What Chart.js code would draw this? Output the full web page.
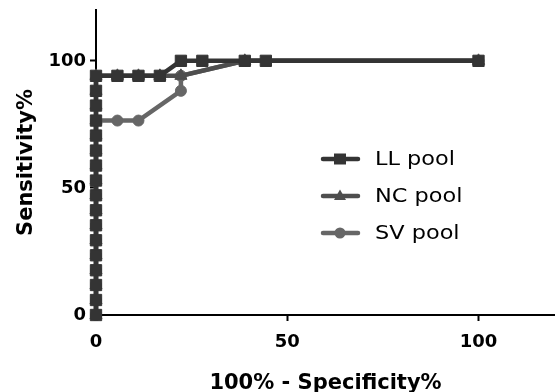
<!DOCTYPE html>
<html>
<head>
<meta charset="utf-8">
<script src="https://cdn.jsdelivr.net/npm/chart.js@4/dist/chart.umd.min.js"></script>
<style>
  html, body { margin: 0; padding: 0; background: #fff; }
</style>
</head>
<body>
<canvas id="rocChart" width="555" height="392"></canvas>
<script>
// ROC curves, values (17 positives, 18 negatives)
const seriesNames = ['LL pool', 'NC pool', 'SV pool'];

const llX = [0, 0, 0, 0, 0, 0, 0, 0, 0, 0, 0, 0, 0, 0, 0, 0, 0, 5.6, 11.1, 16.7, 22.2, 27.8, 38.9, 44.4, 100];
const llY = [0, 5.9, 11.8, 17.6, 23.5, 29.4, 35.3, 41.2, 47.1, 52.9, 58.8, 64.7, 70.6, 76.5, 82.4, 88.2, 94.1, 94.1, 94.1, 94.1, 100, 100, 100, 100, 100];

const ncX = [0, 0, 0, 0, 0, 0, 0, 0, 0, 0, 0, 0, 0, 0, 0, 0, 0, 5.6, 11.1, 16.7, 22.2, 38.9, 100];
const ncY = [0, 5.9, 11.8, 17.6, 23.5, 29.4, 35.3, 41.2, 47.1, 52.9, 58.8, 64.7, 70.6, 76.5, 82.4, 88.2, 94.1, 94.1, 94.1, 94.1, 94.1, 100, 100];

const svX = [0, 0, 0, 0, 0, 0, 0, 0, 0, 0, 0, 0, 0, 0, 5.6, 11.1, 22.2, 22.2, 38.9, 100];
const svY = [0, 5.9, 11.8, 17.6, 23.5, 29.4, 35.3, 41.2, 47.1, 52.9, 58.8, 64.7, 70.6, 76.5, 76.5, 76.5, 88.2, 94.1, 100, 100];

const xTicks = [0, 50, 100];
const yTicks = [0, 50, 100];

const colors = ['rgb(52,52,52)', 'rgb(78,78,78)', 'rgb(102,102,102)'];
const shapes = ['rect', 'triangle', 'circle'];
const radii = [8, 7, 5.5];

const toPoints = (xs, ys) => xs.map((x, i) => ({ x: x, y: ys[i] }));
const allX = [llX, ncX, svX];
const allY = [llY, ncY, svY];

const datasets = seriesNames.map((name, i) => ({
  label: name,
  data: toPoints(allX[i], allY[i]),
  borderColor: colors[i],
  backgroundColor: colors[i],
  borderWidth: 4.5,
  pointStyle: shapes[i],
  pointRadius: radii[i],
  pointBorderWidth: 1,
  pointBorderColor: colors[i],
  pointBackgroundColor: colors[i],
  tension: 0,
  clip: false
}));

// legend drawn by hand so it can sit inside the plot like the original
const poolLegend = {
  id: 'poolLegend',
  afterDraw(chart) {
    const ctx = chart.ctx;
    chart.data.datasets.forEach((ds, i) => {
      const y = 159 + i * 37;
      ctx.save();
      ctx.strokeStyle = ds.borderColor;
      ctx.fillStyle = ds.borderColor;
      ctx.lineWidth = 4.5;
      ctx.lineCap = 'round';
      ctx.beginPath();
      ctx.moveTo(323, y);
      ctx.lineTo(358, y);
      ctx.stroke();
      const cx = 340;
      ctx.beginPath();
      if (ds.pointStyle === 'rect') {
        ctx.rect(cx - 6, y - 5.5, 12, 11);
      } else if (ds.pointStyle === 'triangle') {
        ctx.moveTo(cx, y - 6.5);
        ctx.lineTo(cx + 6, y + 4);
        ctx.lineTo(cx - 6, y + 4);
        ctx.closePath();
      } else {
        ctx.arc(cx, y, 5.5, 0, Math.PI * 2);
      }
      ctx.fill();
      ctx.fillStyle = '#000';
      ctx.font = '19px "DejaVu Sans"';
      ctx.textBaseline = 'middle';
      ctx.translate(375, y + 1);
      ctx.scale(1.18, 1);
      ctx.fillText(ds.label, 0, 0);
      ctx.restore();
    });
  }
};

const axisCommon = {
  type: 'linear',
  min: 0,
  max: 120,
  border: { display: true, color: '#000', width: 2 },
  grid: {
    drawOnChartArea: false,
    drawTicks: true,
    tickLength: 6,
    tickWidth: 2,
    tickColor: '#000'
  }
};

const rocChart = new Chart(document.getElementById('rocChart'), {
  type: 'line',
  data: { datasets: datasets },
  options: {
    responsive: false,
    animation: false,
    events: [],
    devicePixelRatio: 1,
    layout: { autoPadding: false, padding: { top: 10, right: 0, left: 0, bottom: 0 } },
    plugins: {
      legend: { display: false },
      tooltip: { enabled: false }
    },
    scales: {
      x: Object.assign({}, axisCommon, {
        position: 'bottom',
        afterBuildTicks: s => { s.ticks = xTicks.map(v => ({ value: v })); },
        afterFit: s => {
          s.height = 77;
          s.paddingLeft = 0;
          s.paddingRight = 0;
        },
        ticks: {
          color: '#000',
          padding: 11,
          maxRotation: 0,
          font: { family: 'DejaVu Sans', size: 18, weight: 'bold' }
        },
        title: {
          display: true,
          text: '100% - Specificity%',
          color: '#000',
          padding: { top: 0, bottom: -2 },
          font: { family: 'DejaVu Sans', size: 21, weight: 'bold', lineHeight: 1 }
        }
      }),
      y: Object.assign({}, axisCommon, {
        position: 'left',
        afterBuildTicks: s => { s.ticks = yTicks.map(v => ({ value: v })); },
        afterFit: s => {
          s.width = 96;
          s.paddingTop = 0;
          s.paddingBottom = 0;
        },
        ticks: {
          color: '#000',
          padding: 4,
          font: { family: 'DejaVu Sans', size: 18, weight: 'bold' }
        },
        title: {
          display: true,
          text: 'Sensitivity%',
          color: '#000',
          padding: { top: 14, bottom: 0 },
          font: { family: 'DejaVu Sans', size: 21, weight: 'bold', lineHeight: 1.2 }
        }
      })
    }
  },
  plugins: [poolLegend]
});
</script>
</body>
</html>
